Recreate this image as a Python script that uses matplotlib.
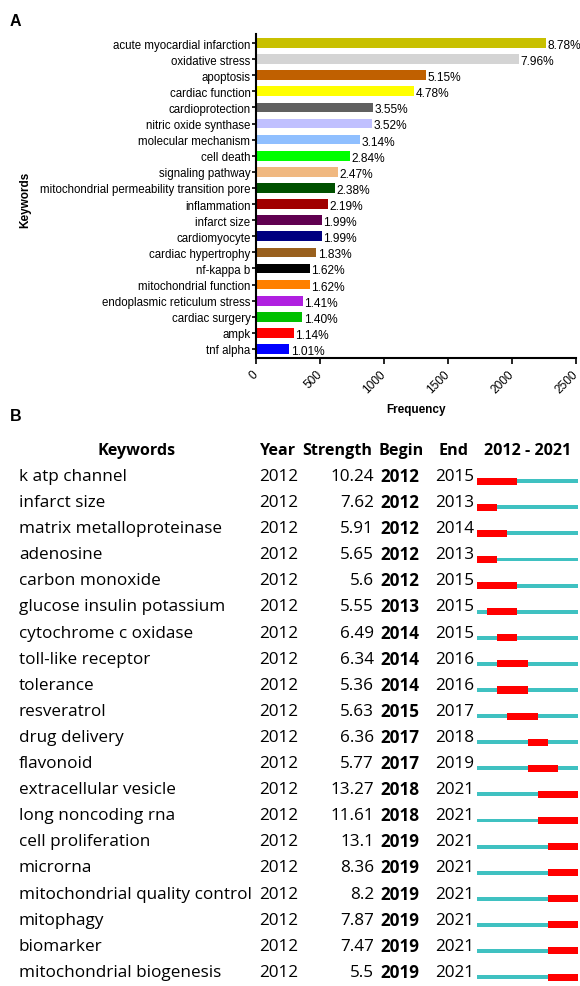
import matplotlib.pyplot as plt
from matplotlib.transforms import blended_transform_factory

# Painel A — palavras-chave mais frequentes
kw_a = [
    "acute myocardial infarction", "oxidative stress", "apoptosis",
    "cardiac function", "cardioprotection", "nitric oxide synthase",
    "molecular mechanism", "cell death", "signaling pathway",
    "mitochondrial permeability transition pore", "inflammation",
    "infarct size", "cardiomyocyte", "cardiac hypertrophy", "nf-kappa b",
    "mitochondrial function", "endoplasmic reticulum stress",
    "cardiac surgery", "ampk", "tnf alpha",
]
freq_a = [2266, 2054, 1329, 1233, 916, 908, 810, 733, 637, 614,
          565, 513, 513, 472, 418, 418, 364, 361, 294, 261]
pct_a = ["8.78%", "7.96%", "5.15%", "4.78%", "3.55%", "3.52%", "3.14%",
         "2.84%", "2.47%", "2.38%", "2.19%", "1.99%", "1.99%", "1.83%",
         "1.62%", "1.62%", "1.41%", "1.40%", "1.14%", "1.01%"]
colors_a = ["#C8C000", "#D4D4D4", "#C06000", "#FFFF00", "#606060",
            "#C0C0FF", "#8FBFFF", "#00FF00", "#F0B880", "#005000",
            "#A00000", "#600050", "#000080", "#99601E", "#000000",
            "#FF8000", "#B020E0", "#00C000", "#FF0000", "#0000FF"]
xticks_a = [0, 500, 1000, 1500, 2000, 2500]

# Painel B — bursts de citação
kw_b = [
    "k atp channel", "infarct size", "matrix metalloproteinase", "adenosine",
    "carbon monoxide", "glucose insulin potassium", "cytochrome c oxidase",
    "toll-like receptor", "tolerance", "resveratrol", "drug delivery",
    "flavonoid", "extracellular vesicle", "long noncoding rna",
    "cell proliferation", "microrna", "mitochondrial quality control",
    "mitophagy", "biomarker", "mitochondrial biogenesis",
]
year_b = [2012] * 20
strength_b = ["10.24", "7.62", "5.91", "5.65", "5.6", "5.55", "6.49", "6.34",
              "5.36", "5.63", "6.36", "5.77", "13.27", "11.61", "13.1",
              "8.36", "8.2", "7.87", "7.47", "5.5"]
begin_b = [2012, 2012, 2012, 2012, 2012, 2013, 2014, 2014, 2014, 2015,
           2017, 2017, 2018, 2018, 2019, 2019, 2019, 2019, 2019, 2019]
end_b = [2015, 2013, 2014, 2013, 2015, 2015, 2015, 2016, 2016, 2017,
         2018, 2019, 2021, 2021, 2021, 2021, 2021, 2021, 2021, 2021]
span_start, span_end = 2012, 2021

W, H = 580, 987
fig = plt.figure(figsize=(W / 100, H / 100), dpi=100)
plt.rcParams["font.family"] = ["Liberation Sans", "DejaVu Sans"]


def px(x0, y0, x1, y1):
    # retângulo em pixels (origem no topo) -> fração da figura
    return [x0 / W, 1 - y1 / H, (x1 - x0) / W, (y1 - y0) / H]


# =============================================================================
# A
# =============================================================================
ax = fig.add_axes(px(256, 35, 576, 359))
pos = list(range(len(kw_a)))
ax.barh(pos, freq_a, height=0.6, color=colors_a)
for p, f, lab in zip(pos, freq_a, pct_a):
    ax.text(f + 12, p + 0.12, lab, va="center", ha="left", fontsize=8.6)
ax.set_ylim(len(kw_a) - 0.44, -0.56)
ax.set_xlim(0, 2500)
ax.set_yticks(pos)
ax.set_yticklabels(kw_a, fontsize=8.3)
ax.set_xticks(xticks_a)
ax.set_xticklabels([str(v) for v in xticks_a], fontsize=8.6,
                   rotation=45, ha="right", va="center",
                   rotation_mode="anchor")
ax.tick_params(axis="y", length=3, width=1.2, pad=1)
ax.tick_params(axis="x", length=4, width=1.2, pad=6)
for s in ("top", "right"):
    ax.spines[s].set_visible(False)
for s in ("left", "bottom"):
    ax.spines[s].set_linewidth(1.5)
ax.set_xlabel("Frequency", fontsize=8.5, fontweight="bold", labelpad=6)
fig.text(25 / W, 1 - 200 / H, "Keywords", rotation=90, fontsize=8.5,
         fontweight="bold", ha="center", va="center")
fig.text(10 / W, 1 - 22 / H, "A", fontsize=11.5, fontweight="bold",
         ha="left", va="center")
fig.text(10 / W, 1 - 417 / H, "B", fontsize=11.5, fontweight="bold",
         ha="left", va="center")

# =============================================================================
# B
# =============================================================================
axb = fig.add_axes(px(477, 435.2, 578, 984.6))
axb.set_xlim(span_start, span_end + 1)
axb.set_ylim(19.45, -1.6)
axb.axis("off")
tr = blended_transform_factory(fig.transFigure, axb.transData)
fb = ["Open Sans", "DejaVu Sans"]
fs = 12.3

hdr = [(137, "Keywords"), (278, "Year"), (337, "Strength"),
       (401, "Begin"), (454, "End"), (528, "2012 - 2021")]
for x, t in hdr:
    axb.text(x / W, -1, t, transform=tr, ha="center", va="center",
             fontsize=11.6, fontweight="bold", family=fb)

for i in range(len(kw_b)):
    axb.text(19 / W, i, kw_b[i], transform=tr, ha="left", va="center",
             fontsize=fs, family=fb)
    axb.text(259 / W, i, str(year_b[i]), transform=tr, ha="left",
             va="center", fontsize=fs, family=fb)
    axb.text(374 / W, i, strength_b[i], transform=tr, ha="right",
             va="center", fontsize=fs, family=fb)
    axb.text(380 / W, i, str(begin_b[i]), transform=tr, ha="left",
             va="center", fontsize=fs, fontweight="bold", family=fb)
    axb.text(435 / W, i, str(end_b[i]), transform=tr, ha="left",
             va="center", fontsize=fs, family=fb)
    yb = i + 0.2
    axb.barh(yb, span_end + 1 - span_start, left=span_start, height=0.15,
             color="#3FC1C1")
    axb.barh(yb, end_b[i] + 1 - begin_b[i], left=begin_b[i], height=0.27,
             color="#FF0000")

fig.savefig("out.png", dpi=100)
